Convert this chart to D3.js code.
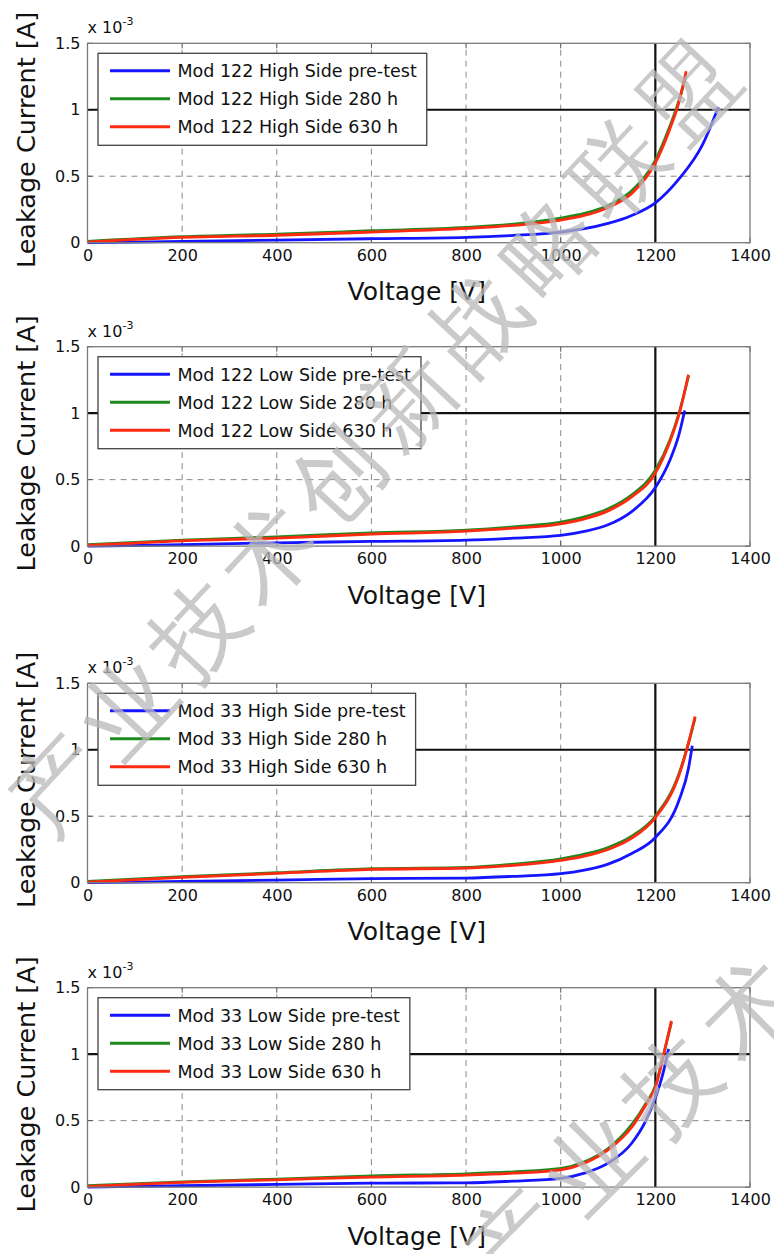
<!DOCTYPE html>
<html><head><meta charset="utf-8">
<script src="https://cdn.jsdelivr.net/npm/d3@7"></script>
<style>
html,body{margin:0;padding:0;background:#fff;}
svg{display:block;}
text{font-family:"DejaVu Sans",sans-serif;}
</style></head>
<body>
<script>
// ---------- data (currents in units of 1e-3 A) ----------
const xTicks = [0, 200, 400, 600, 800, 1000, 1200, 1400];
const yTicks = [0, 0.5, 1, 1.5];
const yTickLabels = ["0", "0.5", "1", "1.5"];
const seriesNames = ["pre-test", "280 h", "630 h"];
const panelTitles = ["Mod 122 High Side", "Mod 122 Low Side", "Mod 33 High Side", "Mod 33 Low Side"];

// Panel 1: Mod 122 High Side
const p1AgedV = [0, 200, 400, 600, 800, 900, 1000, 1050, 1100, 1150, 1200, 1230, 1250, 1265];
const p1I280  = [0.01, 0.045, 0.065, 0.09, 0.115, 0.14, 0.185, 0.22, 0.28, 0.39, 0.62, 0.87, 1.07, 1.26];
const p1I630  = [0.005, 0.04, 0.056, 0.08, 0.107, 0.13, 0.17, 0.205, 0.265, 0.37, 0.60, 0.85, 1.06, 1.29];
const p1PreV  = [0, 200, 400, 600, 800, 900, 1000, 1050, 1100, 1150, 1200, 1250, 1300, 1333];
const p1IPre  = [0, 0.01, 0.02, 0.03, 0.04, 0.055, 0.08, 0.105, 0.145, 0.205, 0.30, 0.48, 0.74, 1.02];

// Panel 2: Mod 122 Low Side
const p2AgedV = [0, 200, 400, 600, 800, 900, 1000, 1050, 1100, 1150, 1200, 1230, 1250, 1270];
const p2I280  = [0.01, 0.045, 0.07, 0.1, 0.12, 0.145, 0.18, 0.22, 0.28, 0.385, 0.57, 0.79, 1.0, 1.28];
const p2I630  = [0.005, 0.04, 0.06, 0.09, 0.113, 0.135, 0.168, 0.205, 0.265, 0.37, 0.55, 0.78, 0.99, 1.29];
const p2PreV  = [0, 200, 400, 600, 800, 900, 1000, 1050, 1100, 1150, 1200, 1230, 1250, 1262];
const p2IPre  = [0, 0.01, 0.025, 0.035, 0.045, 0.06, 0.08, 0.11, 0.16, 0.26, 0.44, 0.64, 0.84, 1.02];

// Panel 3: Mod 33 High Side
const p3AgedV = [0, 200, 400, 600, 800, 900, 1000, 1050, 1100, 1150, 1200, 1250, 1270, 1284];
const p3I280  = [0.01, 0.045, 0.075, 0.105, 0.115, 0.14, 0.18, 0.215, 0.265, 0.35, 0.50, 0.82, 1.05, 1.24];
const p3I630  = [0.005, 0.04, 0.07, 0.1, 0.11, 0.13, 0.168, 0.2, 0.25, 0.335, 0.49, 0.81, 1.05, 1.25];
const p3PreV  = [0, 200, 400, 600, 800, 900, 1000, 1050, 1100, 1150, 1200, 1250, 1270, 1278];
const p3IPre  = [0, 0.01, 0.02, 0.03, 0.035, 0.048, 0.068, 0.095, 0.14, 0.22, 0.34, 0.62, 0.86, 1.03];

// Panel 4: Mod 33 Low Side
const p4AgedV = [0, 200, 400, 600, 800, 900, 1000, 1050, 1100, 1150, 1180, 1200, 1217, 1234];
const p4I280  = [0.01, 0.04, 0.06, 0.085, 0.1, 0.115, 0.14, 0.19, 0.29, 0.47, 0.63, 0.76, 0.99, 1.24];
const p4I630  = [0.005, 0.035, 0.055, 0.075, 0.09, 0.105, 0.13, 0.18, 0.28, 0.45, 0.62, 0.75, 0.99, 1.25];
const p4PreV  = [0, 200, 400, 600, 800, 900, 1000, 1050, 1100, 1150, 1180, 1200, 1215, 1228];
const p4IPre  = [0, 0.01, 0.02, 0.03, 0.032, 0.045, 0.065, 0.105, 0.18, 0.33, 0.5, 0.67, 0.84, 1.04];

const refVoltage = 1200;
const refCurrent = 1;
const watermark = "产业技术创新战略联盟";

// ---------- layout ----------
const W = 774, H = 1254;
const left = 87.5, right = 750;
const panelTops = [43.3, 346.7, 683.3, 987.7];
const plotH = 199.4;
const colors = ["#1515ff", "#1e8a1e", "#ff2a12"];

const panels = [
  {pre: [p1PreV, p1IPre], a280: [p1AgedV, p1I280], a630: [p1AgedV, p1I630]},
  {pre: [p2PreV, p2IPre], a280: [p2AgedV, p2I280], a630: [p2AgedV, p2I630]},
  {pre: [p3PreV, p3IPre], a280: [p3AgedV, p3I280], a630: [p3AgedV, p3I630]},
  {pre: [p4PreV, p4IPre], a280: [p4AgedV, p4I280], a630: [p4AgedV, p4I630]},
];

const svg = d3.select("body").append("svg").attr("width", W).attr("height", H);
const x = d3.scaleLinear().domain([0, 1400]).range([left, right]);

panels.forEach((p, k) => {
  const top = panelTops[k], bottom = top + plotH;
  const y = d3.scaleLinear().domain([0, 1.5]).range([bottom, top]);
  const g = svg.append("g");
  const clipId = "clip" + k;
  g.append("clipPath").attr("id", clipId).append("rect")
    .attr("x", left).attr("y", top - 2).attr("width", right - left).attr("height", plotH + 4);

  // grid
  const grid = g.append("g").attr("stroke", "#8a8a8a").attr("stroke-width", 1).attr("stroke-dasharray", "6,5");
  xTicks.filter(v => v > 0 && v < 1400).forEach(v => {
    grid.append("line").attr("x1", x(v)).attr("x2", x(v)).attr("y1", bottom).attr("y2", top);
  });
  yTicks.filter(v => v > 0 && v < 1.5).forEach(v => {
    grid.append("line").attr("x1", left).attr("x2", right).attr("y1", y(v)).attr("y2", y(v));
  });

  // axes (tick labels)
  const xAxis = d3.axisBottom(x).tickValues(xTicks).tickSize(0).tickPadding(7).tickFormat(d3.format("d"));
  const xa = g.append("g").attr("transform", `translate(0,${bottom})`).call(xAxis);
  xa.select(".domain").remove();
  xa.selectAll("text").attr("font-size", 16).attr("fill", "#111").attr("font-family", "DejaVu Sans");

  const yAxis = d3.axisLeft(y).tickValues(yTicks).tickSize(0).tickPadding(7)
    .tickFormat((d, i) => yTickLabels[i]);
  const ya = g.append("g").attr("transform", `translate(${left},0)`).call(yAxis);
  ya.select(".domain").remove();
  ya.selectAll("text").attr("font-size", 16).attr("fill", "#111").attr("font-family", "DejaVu Sans");

  // top/inside ticks
  const tk = g.append("g").attr("stroke", "#555").attr("stroke-width", 1);
  xTicks.forEach(v => {
    tk.append("line").attr("x1", x(v)).attr("x2", x(v)).attr("y1", bottom).attr("y2", bottom - 5);
    tk.append("line").attr("x1", x(v)).attr("x2", x(v)).attr("y1", top).attr("y2", top + 5);
  });
  yTicks.forEach(v => {
    tk.append("line").attr("x1", left).attr("x2", left + 5).attr("y1", y(v)).attr("y2", y(v));
    tk.append("line").attr("x1", right).attr("x2", right - 5).attr("y1", y(v)).attr("y2", y(v));
  });

  // reference lines
  g.append("line").attr("x1", left).attr("x2", right).attr("y1", y(refCurrent)).attr("y2", y(refCurrent))
    .attr("stroke", "#111").attr("stroke-width", 2.2);
  g.append("line").attr("x1", x(refVoltage)).attr("x2", x(refVoltage)).attr("y1", top).attr("y2", bottom)
    .attr("stroke", "#111").attr("stroke-width", 2.2);

  // curves
  const line = d3.line().x(d => x(d[0])).y(d => y(d[1])).curve(d3.curveMonotoneX);
  const series = [p.pre, p.a280, p.a630];
  const cg = g.append("g").attr("clip-path", `url(#${clipId})`);
  series.forEach((s, i) => {
    const pts = s[0].map((v, j) => [v, s[1][j]]);
    cg.append("path").attr("d", line(pts)).attr("fill", "none")
      .attr("stroke", colors[i]).attr("stroke-width", 2.8).attr("stroke-linejoin", "round");
  });

  // box
  g.append("rect").attr("x", left).attr("y", top).attr("width", right - left).attr("height", plotH)
    .attr("fill", "none").attr("stroke", "#7a7a7a").attr("stroke-width", 1.3);

  // legend
  const lg = g.append("g");
  const lTop = top + 10, lLeft = 98;
  const lbox = lg.append("rect").attr("x", lLeft).attr("y", lTop).attr("height", 92)
    .attr("fill", "#fff").attr("stroke", "#444").attr("stroke-width", 1.3);
  let maxW = 0;
  seriesNames.forEach((n, i) => {
    const cy = lTop + 17.5 + i * 28;
    lg.append("line").attr("x1", 110).attr("x2", 170).attr("y1", cy).attr("y2", cy)
      .attr("stroke", colors[i]).attr("stroke-width", 3);
    const t = lg.append("text").attr("x", 177.5).attr("y", cy + 6.3).attr("font-size", 17.5)
      .attr("fill", "#111").text(panelTitles[k] + " " + n);
    maxW = Math.max(maxW, t.node().getComputedTextLength());
  });
  lbox.attr("width", 177.5 + maxW + 10 - lLeft);

  // exponent label
  const ex = g.append("text").attr("x", left).attr("y", top - 10).attr("font-size", 16).attr("fill", "#111");
  ex.append("tspan").text("x 10");
  ex.append("tspan").attr("dy", -8).attr("font-size", 11).text("-3");

  // axis titles
  g.append("text").attr("x", (left + right) / 2 - 2).attr("y", bottom + 57.5).attr("text-anchor", "middle")
    .attr("font-size", 25).attr("fill", "#111").text("Voltage [V]");
  g.append("text").attr("transform", `translate(35,${(top + bottom) / 2 - 3}) rotate(-90)`)
    .attr("text-anchor", "middle").attr("font-size", 25.5).attr("fill", "#111").text("Leakage Current [A]");
});

// watermark
const wm = svg.append("g").attr("fill", "#b8b8b8").attr("opacity", 0.75)
  .attr("font-family", "'Noto Sans CJK SC'").attr("font-weight", 300).attr("font-size", 92)
  .attr("text-anchor", "middle").attr("dominant-baseline", "central");
const chars = Array.from(watermark);
chars.forEach((c, i) => {
  wm.append("text").attr("transform", `translate(${58 + i * 70},${785 - i * 77}) rotate(-47)`).text(c);
});
chars.slice(0, 5).forEach((c, i) => {
  wm.append("text").attr("transform", `translate(${515 + i * 78},${1240 - i * 77}) rotate(-45)`).text(c);
});
</script>
</body></html>
